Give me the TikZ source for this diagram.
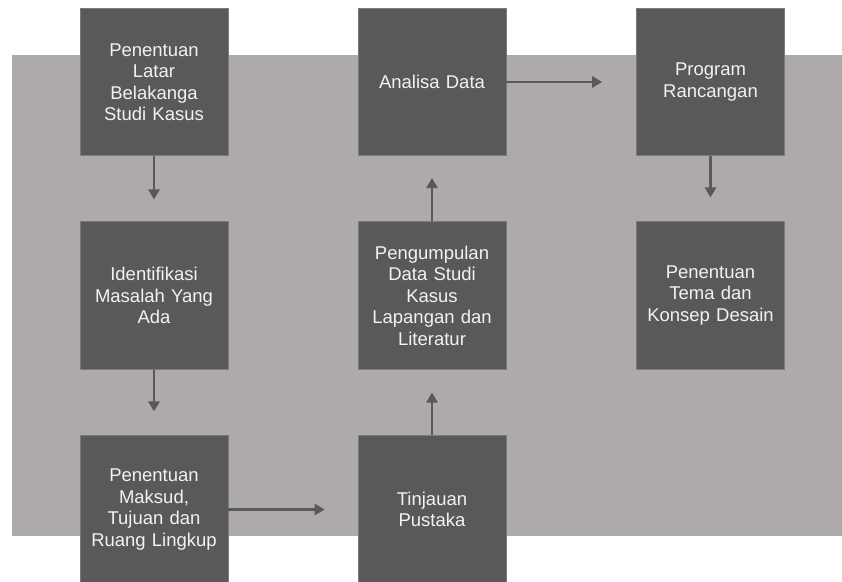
\documentclass[tikz,border=0pt]{standalone}
\usepackage{fontspec}
\setmainfont{Liberation Sans}
\usetikzlibrary{arrows.meta}
\definecolor{bggray}{HTML}{AEAAA9}
\definecolor{boxgray}{HTML}{595959}
\definecolor{boxedge}{HTML}{7A7A7A}
\definecolor{txtgray}{HTML}{F2F2F2}
\tikzset{
  stepbox/.style={rectangle, fill=boxgray, draw=boxedge, line width=0.6pt,
    minimum width=148pt, minimum height=147.5pt, inner sep=0pt,
    text width=140pt, align=center, text=txtgray,
    font=\fontsize{18.5}{21.5}\selectfont},
  flow/.style={draw=boxgray, line width=2.8pt,
    -{Triangle[width=11pt,length=10pt]}}
}
\begin{document}
\begin{tikzpicture}[x=1pt,y=-1pt]
\useasboundingbox (0,0) rectangle (842,581);
\clip (0,0) rectangle (842,581);
\fill[bggray] (12,55) rectangle (842,536);
\node[stepbox] (b1) at (154,82) {Penentuan\\Latar\\Belakanga\\Studi Kasus};
\node[stepbox] (b2) at (154,295.5) {Identifikasi\\Masalah Yang\\Ada};
\node[stepbox] (b3) at (154,509.5) {Penentuan\\Maksud,\\Tujuan dan\\Ruang Lingkup};
\node[stepbox] (b4) at (432,509.5) {Tinjauan\\Pustaka};
\node[stepbox] (b5) at (432,295.5) {Pengumpulan\\Data Studi\\Kasus\\Lapangan dan\\Literatur};
\node[stepbox] (b6) at (432,82) {Analisa Data};
\node[stepbox] (b7) at (710.5,82) {Program\\Rancangan};
\node[stepbox] (b8) at (710.5,295.5) {Penentuan\\Tema dan\\Konsep Desain};
\draw[flow, shorten >=22pt] (b1) -- (b2);
\draw[flow, shorten >=24pt] (b2) -- (b3);
\draw[flow, shorten >=33pt] (b3) -- (b4);
\draw[flow, shorten >=23pt] (b4) -- (b5);
\draw[flow, shorten >=22pt] (b5) -- (b6);
\draw[flow, shorten >=34pt] (b6) -- (b7);
\draw[flow, shorten >=24pt] (b7) -- (b8);
\end{tikzpicture}
\end{document}
